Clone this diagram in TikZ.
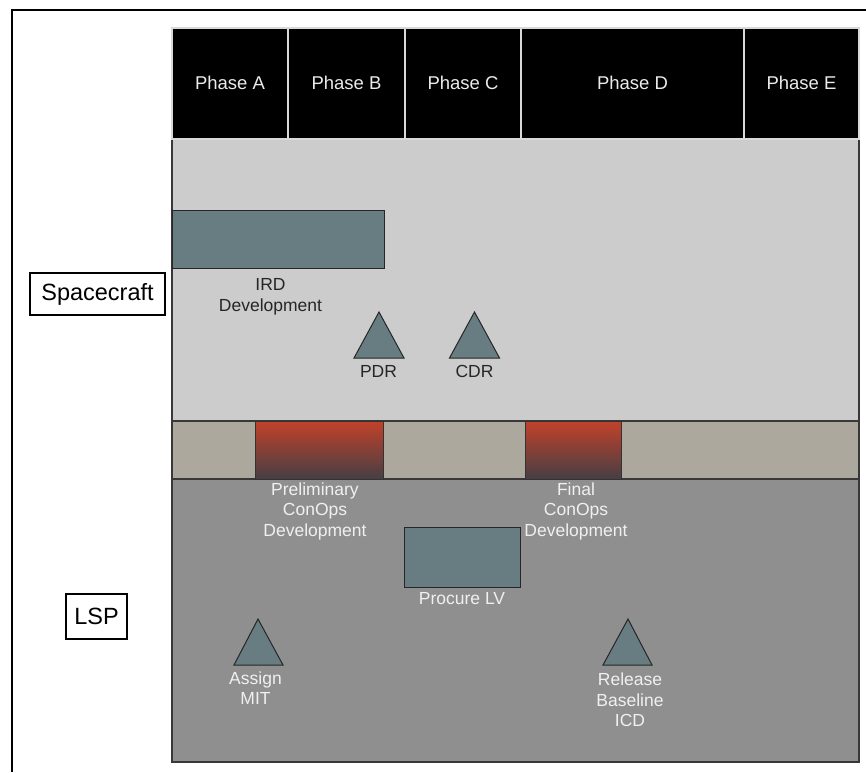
\documentclass[tikz,border=0pt]{standalone}
\usepackage{fontspec}
\setmainfont{Liberation Sans}
\definecolor{slate}{HTML}{677D82}
\definecolor{scgray}{HTML}{CCCCCC}
\definecolor{bandgray}{HTML}{ADA89D}
\definecolor{lspgray}{HTML}{8F8F8F}
\definecolor{conopstop}{HTML}{C2412A}
\definecolor{conopsbot}{HTML}{463F44}
\begin{document}
\begin{tikzpicture}[x=1pt,y=-1pt,
  phasecell/.style={fill=black, draw=black!15, line width=1.2},
  phasetext/.style={text=white!92!black, inner sep=0, font=\fontsize{18.5}{22}\selectfont},
  lane/.style={draw=black!78, line width=1.2},
  taskbar/.style={fill=slate, draw=black!85, line width=1},
  conops/.style={top color=conopstop, bottom color=conopsbot, draw=black!80, line width=1},
  milestone/.style={fill=slate, draw=black!85, line width=1, line join=miter},
  darklabel/.style={text=black!85, inner sep=0, align=center, font=\fontsize{17.5}{21}\selectfont},
  lightlabel/.style={text=white!94!black, inner sep=0, align=center, font=\fontsize{17.5}{20.5}\selectfont},
  lanename/.style={draw=black, line width=1.4, fill=white, inner sep=0, font=\fontsize{23.5}{27}\selectfont}]
\useasboundingbox (0,0) rectangle (866,772);

% outer frame (top and left edges)
\draw[line width=2] (12,772) -- (12,10) -- (866,10);

% lanes
\draw[lane, fill=scgray] (172,139) rectangle (859,421);
\draw[lane, fill=bandgray] (172,421) rectangle (859,479);
\draw[lane, fill=lspgray, line width=1.6] (172,479) rectangle (859,762);

% phase header
\draw[phasecell] (172,28) rectangle (288,139);
\draw[phasecell] (288,28) rectangle (405,139);
\draw[phasecell] (405,28) rectangle (521,139);
\draw[phasecell] (521,28) rectangle (744,139);
\draw[phasecell] (744,28) rectangle (859,139);
\node[phasetext] (phA) at (230,83) {Phase A};
\node[phasetext] (phB) at (346.5,83) {Phase B};
\node[phasetext] (phC) at (463,83) {Phase C};
\node[phasetext] (phD) at (632.5,83) {Phase D};
\node[phasetext] (phE) at (801.5,83) {Phase E};

% lane names
\node[lanename, minimum width=135, minimum height=42] (sc) at (97.5,294) {Spacecraft};
\node[lanename, minimum width=61, minimum height=45] (lsp) at (96.5,616.5) {LSP};

% spacecraft tasks and milestones
\draw[taskbar] (172,210) rectangle (384,268);
\node[darklabel] (ird) at (270.5,297) {IRD\\Development};
\draw[milestone] (379,312) -- (354,358) -- (404,358) -- cycle;
\node[darklabel] (pdr) at (378.5,371) {PDR};
\draw[milestone] (474.5,312) -- (449.5,358) -- (499.5,358) -- cycle;
\node[darklabel] (cdr) at (474.5,371) {CDR};

% concept of operations bars
\draw[conops] (255,421) rectangle (383,479);
\draw[conops] (525,421) rectangle (621,479);
\node[lightlabel] (prelim) at (315,511) {Preliminary\\ConOps\\Development};
\node[lightlabel] (final) at (576,511) {Final\\ConOps\\Development};

% LSP tasks and milestones
\draw[taskbar] (404,527) rectangle (520,587);
\node[lightlabel] (plv) at (462,599) {Procure LV};
\draw[milestone] (258,619) -- (234,665) -- (283,665) -- cycle;
\node[lightlabel] (mit) at (255.5,688) {Assign\\MIT};
\draw[milestone] (628,619) -- (603,665) -- (652,665) -- cycle;
\node[lightlabel] (icd) at (630,700) {Release\\Baseline\\ICD};
\end{tikzpicture}
\end{document}
